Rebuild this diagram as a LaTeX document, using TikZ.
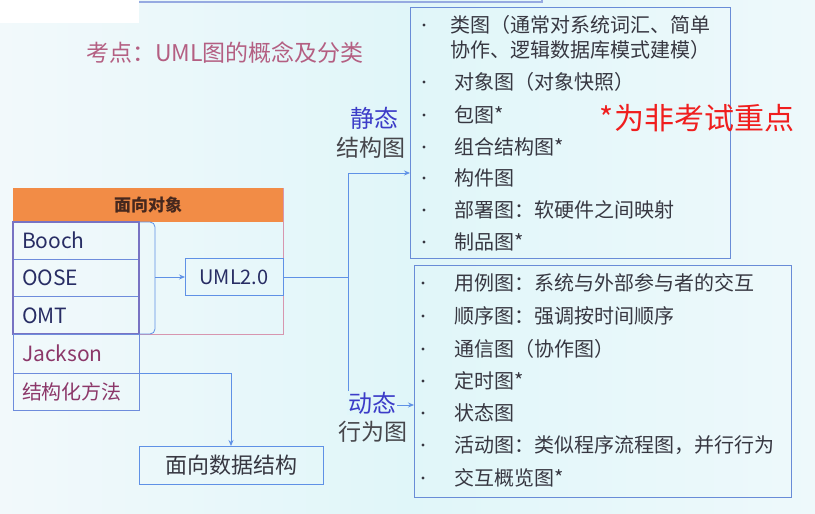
\documentclass[tikz,border=0pt]{standalone}
\usepackage{fontspec}
\setmainfont{Noto Sans CJK SC}
\usetikzlibrary{arrows.meta}
\definecolor{bgl}{RGB}{242,249,251}
\definecolor{bgm}{RGB}{224,246,249}
\definecolor{bgr}{RGB}{238,249,251}
\definecolor{titlec}{RGB}{180,95,130}
\definecolor{lblue}{RGB}{60,60,200}
\definecolor{dgray}{RGB}{70,70,75}
\definecolor{itemc}{RGB}{55,55,65}
\definecolor{redc}{RGB}{240,30,30}
\definecolor{navy}{RGB}{40,45,100}
\definecolor{plum}{RGB}{140,55,105}
\definecolor{orangeh}{RGB}{242,140,70}
\definecolor{hdrtext}{RGB}{70,40,30}
\definecolor{pinkb}{RGB}{215,150,175}
\definecolor{cellb}{RGB}{120,115,195}
\definecolor{cellb2}{RGB}{110,140,220}
\definecolor{lineblue}{RGB}{95,145,230}
\definecolor{boxblue}{RGB}{105,140,215}
\definecolor{toplinec}{RGB}{150,170,225}
\newcommand{\fsz}[1]{\fontsize{#1}{#1}\selectfont}
\begin{document}
\begin{tikzpicture}[x=1pt,y=-1pt,
  box/.style={draw, rectangle, inner sep=0pt, outer sep=0pt},
  cell/.style={draw=cellb2, line width=0.9pt, rectangle, outer sep=0pt, inner xsep=9pt, inner ysep=0pt, text width=108pt, align=left, minimum height=37.3pt, anchor=north west, font=\fsz{21}},
  conn/.style={draw=lineblue, line width=0.8pt},
  arr/.style={-{Stealth[length=6pt,width=5pt]}},
  itm/.style={anchor=west, inner sep=0pt, text=itemc, font=\fsz{20}},
  bul/.style={circle, fill=itemc, inner sep=0pt, minimum size=3.4pt},
  lbl/.style={inner sep=0pt, font=\fsz{23}},
]
\useasboundingbox (0,0) rectangle (815,514);
\shade[left color=bgl, right color=bgr, middle color=bgm] (0,0) rectangle (815,514);
\fill[white] (0,0) rectangle (139,23);
\draw[toplinec, line width=1.2pt] (139,2) -- (542,2) -- (542,0);

% title
\node[inner sep=0pt, text=titlec, font=\fsz{23}] (title) at (225,53) {考点：UML图的概念及分类};

% left side
\node[box, draw=pinkb, line width=1pt, minimum width=270pt, minimum height=146pt, anchor=north west] (oo) at (13,188) {};
\node[box, draw=none, fill=orangeh, minimum width=270pt, minimum height=34pt, anchor=north west, font=\bfseries\fsz{17}, text=hdrtext] (hdr) at (13,188) {面向对象};
\node[cell, text=navy] (booch) at (13,222) {Booch};
\node[cell, text=navy] (oose) at (13,259.3) {OOSE};
\node[cell, text=navy] (omt) at (13,296.7) {OMT};
\draw[cellb, line width=1.5pt] (booch.north west) rectangle (omt.south east);
\node[cell, text=plum, minimum height=39pt] (jackson) at (13,334) {Jackson};
\node[cell, text=plum, font=\fsz{20}, minimum height=37pt] (struct) at (13,373) {结构化方法};

\node[box, draw=lineblue, line width=0.9pt, minimum width=98pt, minimum height=37pt, font=\fsz{20}, text=navy] (uml) at (234,277) {UML2.0};
\node[box, draw=lineblue, line width=0.9pt, minimum width=184pt, minimum height=38pt, font=\fsz{22}, text=itemc] (ds) at (231,465) {面向数据结构};

\coordinate (bm) at (155,277);
\draw[conn, rounded corners=5pt] (booch.north east) -| (bm) |- (omt.south east);
\draw[conn, arr] (bm) -- (uml.west);
\draw[conn, arr] (jackson.south east) -| (ds.north);

% right boxes
\node[box, draw=boxblue, line width=1pt, minimum width=320pt, minimum height=251pt, anchor=north west] (stat) at (410,7) {};
\node[box, draw=boxblue, line width=1pt, minimum width=377pt, minimum height=232pt, anchor=north west] (dyn) at (414,265) {};

\coordinate (jn) at (348,277);
\coordinate (sin) at (410,173);
\coordinate (din) at (414,405);
\draw[conn, arr] (uml.east) -- (jn) |- (sin);
\draw[conn, arr] (jn) |- (din);

\node[lbl, text=lblue, font=\fsz{24}] (jt1) at (374,118) {静态};
\node[lbl, text=dgray] (jt2) at (371,148) {结构图};
\node[lbl, text=lblue, font=\fsz{24}, fill=bgm, inner sep=1pt] (dt1) at (372,403) {动态};
\node[lbl, text=dgray] (dt2) at (373,432) {行为图};

\node[inner sep=0pt, text=redc, font=\fsz{30}] (note) at (697,118) {*为非考试重点};

% static items
\node[bul] (sb1) at (424,25) {};
\node[itm] (s1) at (450,25) {类图（通常对系统词汇、简单};
\node[itm] (s1b) at (450,50) {协作、逻辑数据库模式建模）};
\node[bul] (sb2) at (424,82) {};
\node[itm] (s2) at (454,82) {对象图（对象快照）};
\node[bul] (sb3) at (424,115) {};
\node[itm] (s3) at (454,115) {包图*};
\node[bul] (sb4) at (424,147) {};
\node[itm] (s4) at (454,147) {组合结构图*};
\node[bul] (sb5) at (424,178) {};
\node[itm] (s5) at (454,178) {构件图};
\node[bul] (sb6) at (424,210) {};
\node[itm] (s6) at (454,210) {部署图：软硬件之间映射};
\node[bul] (sb7) at (424,242) {};
\node[itm] (s7) at (454,242) {制品图*};

% dynamic items
\node[bul] (db1) at (423,283) {};
\node[itm] (d1) at (454,283) {用例图：系统与外部参与者的交互};
\node[bul] (db2) at (423,316) {};
\node[itm] (d2) at (454,316) {顺序图：强调按时间顺序};
\node[bul] (db3) at (423,349) {};
\node[itm] (d3) at (454,349) {通信图（协作图）};
\node[bul] (db4) at (423,381) {};
\node[itm] (d4) at (454,381) {定时图*};
\node[bul] (db5) at (423,413) {};
\node[itm] (d5) at (454,413) {状态图};
\node[bul] (db6) at (423,445) {};
\node[itm] (d6) at (454,445) {活动图：类似程序流程图，并行行为};
\node[bul] (db7) at (423,478) {};
\node[itm] (d7) at (454,478) {交互概览图*};
\end{tikzpicture}
\end{document}
